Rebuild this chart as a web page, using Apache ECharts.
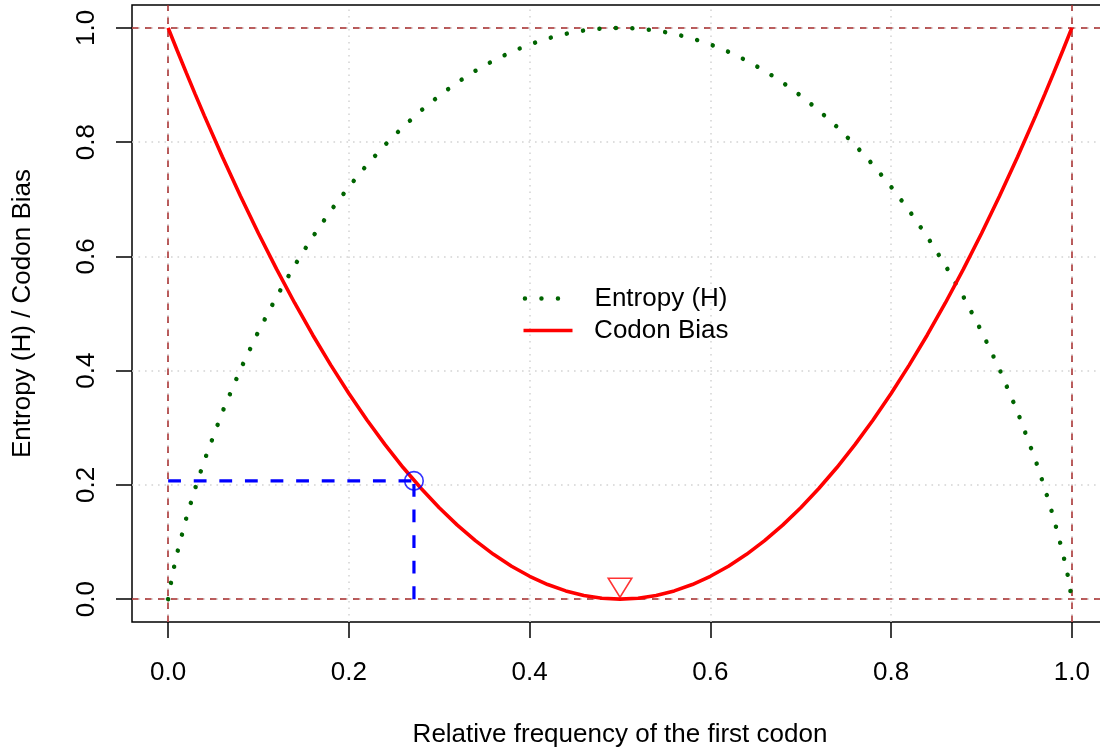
<!DOCTYPE html>
<html>
<head>
<meta charset="utf-8">
<title>Entropy and codon bias</title>
<script src="https://cdn.jsdelivr.net/npm/echarts@6/dist/echarts.min.js"></script>
<style>
  html, body { margin: 0; padding: 0; background: #fff; }
  #chart { width: 1100px; height: 749px; }
</style>
</head>
<body>
<div id="chart"></div>
<script>
  // relative frequency of the first codon (x) and the two curves
  const freq = [0, 0.005, 0.01, 0.02, 0.03, 0.04, 0.06, 0.08, 0.1, 0.12, 0.14, 0.16, 0.18, 0.2, 0.22, 0.24, 0.26, 0.28,
    0.3, 0.32, 0.34, 0.36, 0.38, 0.4, 0.42, 0.44, 0.46, 0.48, 0.5, 0.52, 0.54, 0.56, 0.58, 0.6, 0.62, 0.64, 0.66, 0.68,
    0.7, 0.72, 0.74, 0.76, 0.78, 0.8, 0.82, 0.84, 0.86, 0.88, 0.9, 0.92, 0.94, 0.96, 0.97, 0.98, 0.99, 0.995, 1]
  const entropy = [0, 0.0454, 0.0808, 0.1414, 0.1944, 0.2423, 0.3274, 0.4022, 0.469, 0.5294, 0.5842, 0.6343, 0.6801,
    0.7219, 0.7602, 0.795, 0.8267, 0.8555, 0.8813, 0.9044, 0.9248, 0.9427, 0.958, 0.971, 0.9815, 0.9896, 0.9954, 0.9988,
    1, 0.9988, 0.9954, 0.9896, 0.9815, 0.971, 0.958, 0.9427, 0.9248, 0.9044, 0.8813, 0.8555, 0.8267, 0.795, 0.7602,
    0.7219, 0.6801, 0.6343, 0.5842, 0.5294, 0.469, 0.4022, 0.3274, 0.2423, 0.1944, 0.1414, 0.0808, 0.0454, 0]
  const codonBias = [1, 0.9801, 0.9604, 0.9216, 0.8836, 0.8464, 0.7744, 0.7056, 0.64, 0.5776, 0.5184, 0.4624, 0.4096,
    0.36, 0.3136, 0.2704, 0.2304, 0.1936, 0.16, 0.1296, 0.1024, 0.0784, 0.0576, 0.04, 0.0256, 0.0144, 0.0064, 0.0016,
    0, 0.0016, 0.0064, 0.0144, 0.0256, 0.04, 0.0576, 0.0784, 0.1024, 0.1296, 0.16, 0.1936, 0.2304, 0.2704, 0.3136,
    0.36, 0.4096, 0.4624, 0.5184, 0.5776, 0.64, 0.7056, 0.7744, 0.8464, 0.8836, 0.9216, 0.9604, 0.9801, 1]
  const tickValues = [0, 0.2, 0.4, 0.6, 0.8, 1]
  const refLines = [0, 1]
  const markedPoint = [0.272, 0.207]
  const minPoint = [0.5, 0.02]

  const font = '"Liberation Sans", Arial, Helvetica, sans-serif'
  const textStyle = { fontFamily: font, fontSize: 26, color: '#000' }
  const pairs = (ys) => freq.map((x, i) => [x, ys[i]])

  const axisCommon = {
    type: 'value',
    min: -0.04,
    max: 1.04,
    nameLocation: 'middle',
    nameTextStyle: textStyle,
    axisLine: { show: false, onZero: false },
    axisTick: { show: true, customValues: tickValues, length: 16, lineStyle: { color: '#000', width: 1.5 } },
    splitLine: { show: false }
  }

  const chart = echarts.init(document.getElementById('chart'))
  chart.setOption({
    animation: false,
    grid: {
      left: 132,
      top: 5,
      width: 976,
      height: 617,
      outerBoundsMode: 'none',
      show: true,
      borderColor: '#000',
      borderWidth: 1.5
    },
    xAxis: {
      ...axisCommon,
      name: 'Relative frequency of the first codon',
      nameGap: 100,
      axisLabel: { ...textStyle, customValues: tickValues, margin: 38, formatter: (v) => v.toFixed(1) }
    },
    yAxis: {
      ...axisCommon,
      name: 'Entropy (H) / Codon Bias',
      nameGap: 96,
      nameRotate: 90,
      axisLabel: { ...textStyle, customValues: tickValues, margin: 32, rotate: 90, formatter: (v) => v.toFixed(1) }
    },
    legend: [
      {
        data: ['Entropy (H)'],
        left: 522.7,
        top: 285.5,
        padding: 0,
        itemWidth: 40,
        itemHeight: 0.1,
        itemStyle: { opacity: 0 },
        lineStyle: { width: 4.5 },
        textStyle: { ...textStyle, padding: [0, 0, 0, 24.6] }
      },
      {
        data: ['Codon Bias'],
        left: 521.7,
        top: 317.5,
        padding: 0,
        itemWidth: 49,
        itemHeight: 0.1,
        itemStyle: { opacity: 0 },
        lineStyle: { width: 3.6 },
        textStyle: { ...textStyle, padding: [0, 0, 0, 16.6] }
      }
    ],
    series: [
      {
        name: 'grid',
        type: 'line',
        data: [],
        silent: true,
        markLine: {
          z: 0.5,
          silent: true,
          symbol: 'none',
          label: { show: false },
          lineStyle: { color: '#D3D3D3', type: [1.6, 4.9], width: 1.5 },
          data: tickValues.map((v) => ({ xAxis: v })).concat(tickValues.map((v) => ({ yAxis: v })))
        }
      },
      {
        name: 'limits',
        type: 'line',
        data: [],
        silent: true,
        markLine: {
          z: 1,
          silent: true,
          symbol: 'none',
          label: { show: false },
          lineStyle: { color: '#A52A2A', type: [6.5, 6.5], width: 1.5 },
          data: refLines.map((v) => ({ xAxis: v })).concat(refLines.map((v) => ({ yAxis: v })))
        }
      },
      {
        name: 'Entropy (H)',
        type: 'line',
        z: 2,
        data: pairs(entropy),
        symbol: 'none',
        showSymbol: false,
        color: '#006400',
        lineStyle: { color: '#006400', width: 4.5, type: [0.001, 16.5], cap: 'round' }
      },
      {
        name: 'Codon Bias',
        type: 'line',
        z: 2,
        data: pairs(codonBias),
        symbol: 'none',
        showSymbol: false,
        color: '#FF0000',
        lineStyle: { color: '#FF0000', width: 3.6 }
      },
      {
        name: 'mark-h',
        type: 'line',
        z: 3,
        data: [[0, markedPoint[1]], markedPoint],
        symbol: 'none',
        lineStyle: { color: '#0000FF', width: 3.2, type: [12.8, 12.8] }
      },
      {
        name: 'mark-v',
        type: 'line',
        z: 3,
        data: [[markedPoint[0], 0], markedPoint],
        symbol: 'none',
        lineStyle: { color: '#0000FF', width: 3.2, type: [12.8, 12.8] }
      },
      {
        name: 'point',
        type: 'scatter',
        z: 4,
        data: [markedPoint],
        symbol: 'circle',
        symbolSize: 18.5,
        itemStyle: { color: 'transparent', borderColor: '#0000FF', borderWidth: 1.6 }
      },
      {
        name: 'minimum',
        type: 'scatter',
        z: 4,
        data: [minPoint],
        symbol: 'triangle',
        symbolRotate: 180,
        symbolSize: [23.5, 19],
        itemStyle: { color: 'transparent', borderColor: '#FF0000', borderWidth: 1.6 }
      }
    ]
  })
</script>
</body>
</html>
